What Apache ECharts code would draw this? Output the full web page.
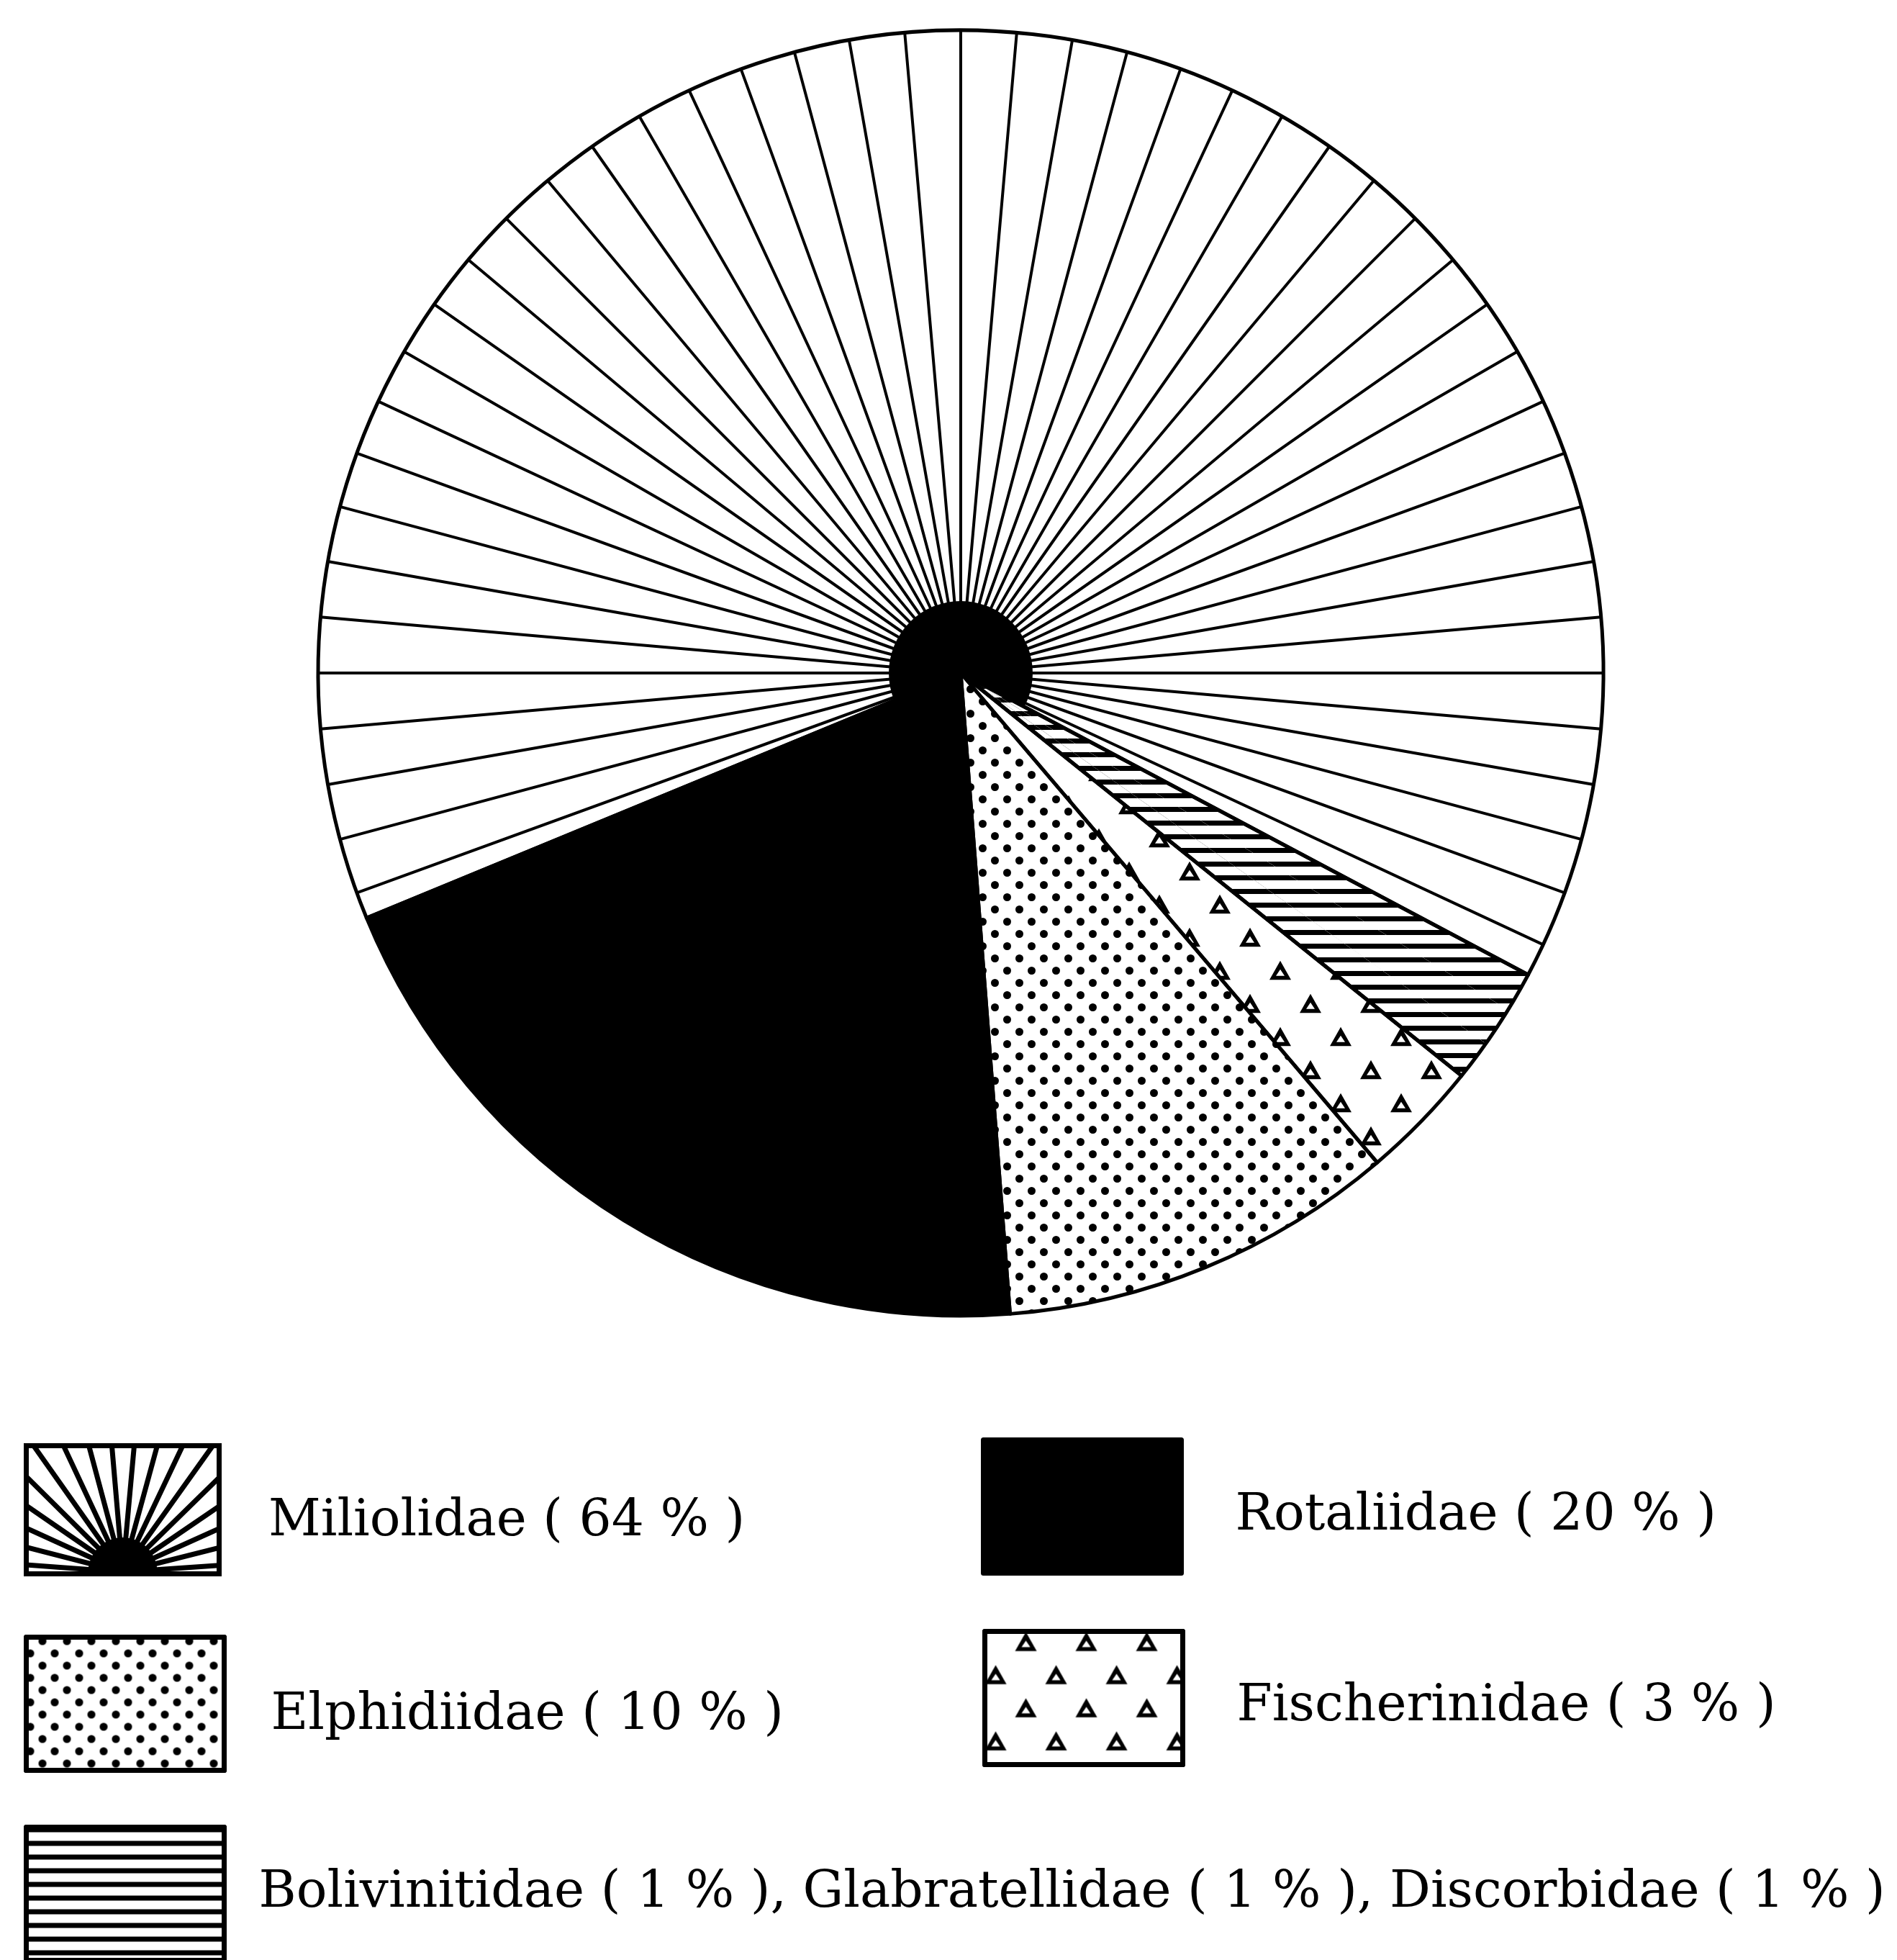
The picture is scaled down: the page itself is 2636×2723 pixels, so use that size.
<!DOCTYPE html>
<html>
<head>
<meta charset="utf-8">
<title>Foraminifera families</title>
<script src="https://cdn.jsdelivr.net/npm/echarts@6/dist/echarts.min.js"></script>
<style>
  html, body { margin: 0; padding: 0; background: #fff; }
  #chart { width: 2636px; height: 2723px; }
</style>
</head>
<body>
<div id="chart"></div>
<script>
  // families and their share in %, as printed in the legend
  var families = ['Miliolidae', 'Rotaliidae', 'Elphidiidae', 'Fischerinidae', 'Bolivinitidae', 'Glabratellidae', 'Discorbidae'];
  var percents = [64, 20, 10, 3, 1, 1, 1];
  // the last three families share one hatching, drawn as one sector
  var sectorGroups = [[0], [1], [2], [3], [4, 5, 6]];

  var CENTER = [1335, 935];
  var R = 893;
  var START = -28;
  var LINE = 5;

  // fill patterns
  var dotDecal = {
    symbol: 'circle', symbolSize: 1, color: '#000',
    dashArrayX: [[11, 23], [0, 17, 11, 6]],
    dashArrayY: [11, 6]
  };
  var triangleDecal = {
    // hollow triangle: inner path wound the other way
    symbol: 'path://M50,0 L100,88 L0,88 Z M50,40 L30,70 L70,70 Z',
    symbolSize: 1, color: '#000',
    dashArrayX: [[30, 54], [0, 42, 30, 12]],
    dashArrayY: [28, 18]
  };
  var hatchDecal = {
    symbol: 'rect', symbolSize: 1, color: '#000',
    dashArrayX: [1, 0],
    dashArrayY: [7, 12]
  };

  var itemStyles = [
    { color: 'rgba(0,0,0,0)' },
    { color: '#000' },
    { color: '#fff', decal: dotDecal },
    { color: '#fff', decal: triangleDecal },
    { color: '#fff', decal: hatchDecal },
    { color: '#fff', decal: hatchDecal },
    { color: '#fff', decal: hatchDecal }
  ];

  function label(i) {
    return families[i] + ' ( ' + percents[i] + ' % )';
  }

  // swatch for the radial-line pattern (no decal can do this one)
  function sunburstIcon() {
    var w = 275, h = 185, cx = w / 2, cy = h - 6;
    var s = '<svg xmlns="http://www.w3.org/2000/svg" width="' + w + '" height="' + h + '" viewBox="0 0 ' + w + ' ' + h + '">';
    s += '<rect x="0" y="0" width="' + w + '" height="' + h + '" fill="#fff"/>';
    for (var a = 4; a <= 176; a += 10.1) {
      var t = a * Math.PI / 180;
      s += '<line x1="' + cx + '" y1="' + cy + '" x2="' + (cx + 400 * Math.cos(t)).toFixed(1) +
        '" y2="' + (cy - 400 * Math.sin(t)).toFixed(1) + '" stroke="#000" stroke-width="7"/>';
    }
    s += '<path d="M' + (cx - 48) + ',' + cy + ' A48,48 0 0 1 ' + (cx + 48) + ',' + cy + ' Z" fill="#000"/>';
    s += '<rect x="3.5" y="3.5" width="' + (w - 7) + '" height="' + (h - 7) + '" fill="none" stroke="#000" stroke-width="7"/>';
    s += '</svg>';
    return 'image://data:image/svg+xml;charset=utf-8,' + encodeURIComponent(s);
  }

  var textFont = { fontFamily: 'DejaVu Serif', fontSize: 71, color: '#000' };

  function legendBox(idx, left, top, gap, drop, text, icon) {
    return {
      left: left,
      top: top,
      orient: 'vertical',
      padding: 0,
      itemWidth: 275,
      itemHeight: 185,
      selectedMode: false,
      icon: 'rect',
      data: [{ name: families[idx], icon: icon || 'rect' }],
      itemStyle: { borderColor: '#000', borderWidth: 7 },
      formatter: function () { return '{t|' + text + '}'; },
      textStyle: {
        fontFamily: textFont.fontFamily,
        fontSize: textFont.fontSize,
        color: textFont.color,
        padding: [0, 0, 0, gap],
        rich: {
          t: {
            fontFamily: textFont.fontFamily,
            fontSize: textFont.fontSize,
            color: textFont.color,
            padding: [drop, 0, 0, 0]
          }
        }
      }
    };
  }

  var pieData = families.map(function (name, i) {
    return { name: name, value: percents[i], itemStyle: itemStyles[i] };
  });

  var outlineData = sectorGroups.map(function (g, k) {
    var v = 0;
    g.forEach(function (i) { v += percents[i]; });
    return { name: 'sector' + k, value: v };
  });

  var option = {
    backgroundColor: '#fff',
    animation: false,
    polar: { center: CENTER, radius: R },
    angleAxis: {
      type: 'value', min: 0, max: 360, interval: 5, startAngle: 90,
      axisLine: { show: false }, axisTick: { show: false }, axisLabel: { show: false },
      splitLine: { show: true, lineStyle: { color: '#000', width: LINE - 1 } }
    },
    radiusAxis: { type: 'value', min: 0, max: 1, show: false, splitLine: { show: false } },
    legend: [
      legendBox(0, 33, 2005, 60, 34, label(0), sunburstIcon()),
      legendBox(1, 1363, 1997, 70, 28, label(1)),
      legendBox(2, 33, 2271, 60, 34, label(2)),
      legendBox(3, 1365, 2263, 70, 26, label(3)),
      legendBox(4, 33, 2535, 43, 0, [4, 5, 6].map(label).join(', '))
    ],
    series: [
      {
        // black hub the radial lines run into
        type: 'pie', z: 2, silent: true,
        center: CENTER, radius: [0, 100],
        label: { show: false }, labelLine: { show: false },
        data: [{ name: 'hub', value: 1, itemStyle: { color: '#000' } }]
      },
      {
        type: 'pie', z: 3,
        center: CENTER, radius: R,
        clockwise: false, startAngle: START,
        label: { show: false }, labelLine: { show: false },
        emphasis: { disabled: true },
        itemStyle: { borderWidth: 0 },
        data: pieData
      },
      {
        // sector outlines
        type: 'pie', z: 4, silent: true,
        center: CENTER, radius: R,
        clockwise: false, startAngle: START,
        label: { show: false }, labelLine: { show: false },
        itemStyle: { color: 'rgba(0,0,0,0)', borderColor: '#000', borderWidth: LINE },
        data: outlineData
      }
    ]
  };

  var chart = echarts.init(document.getElementById('chart'));
  chart.setOption(option);
  window.onresize = chart.resize;
</script>
</body>
</html>
